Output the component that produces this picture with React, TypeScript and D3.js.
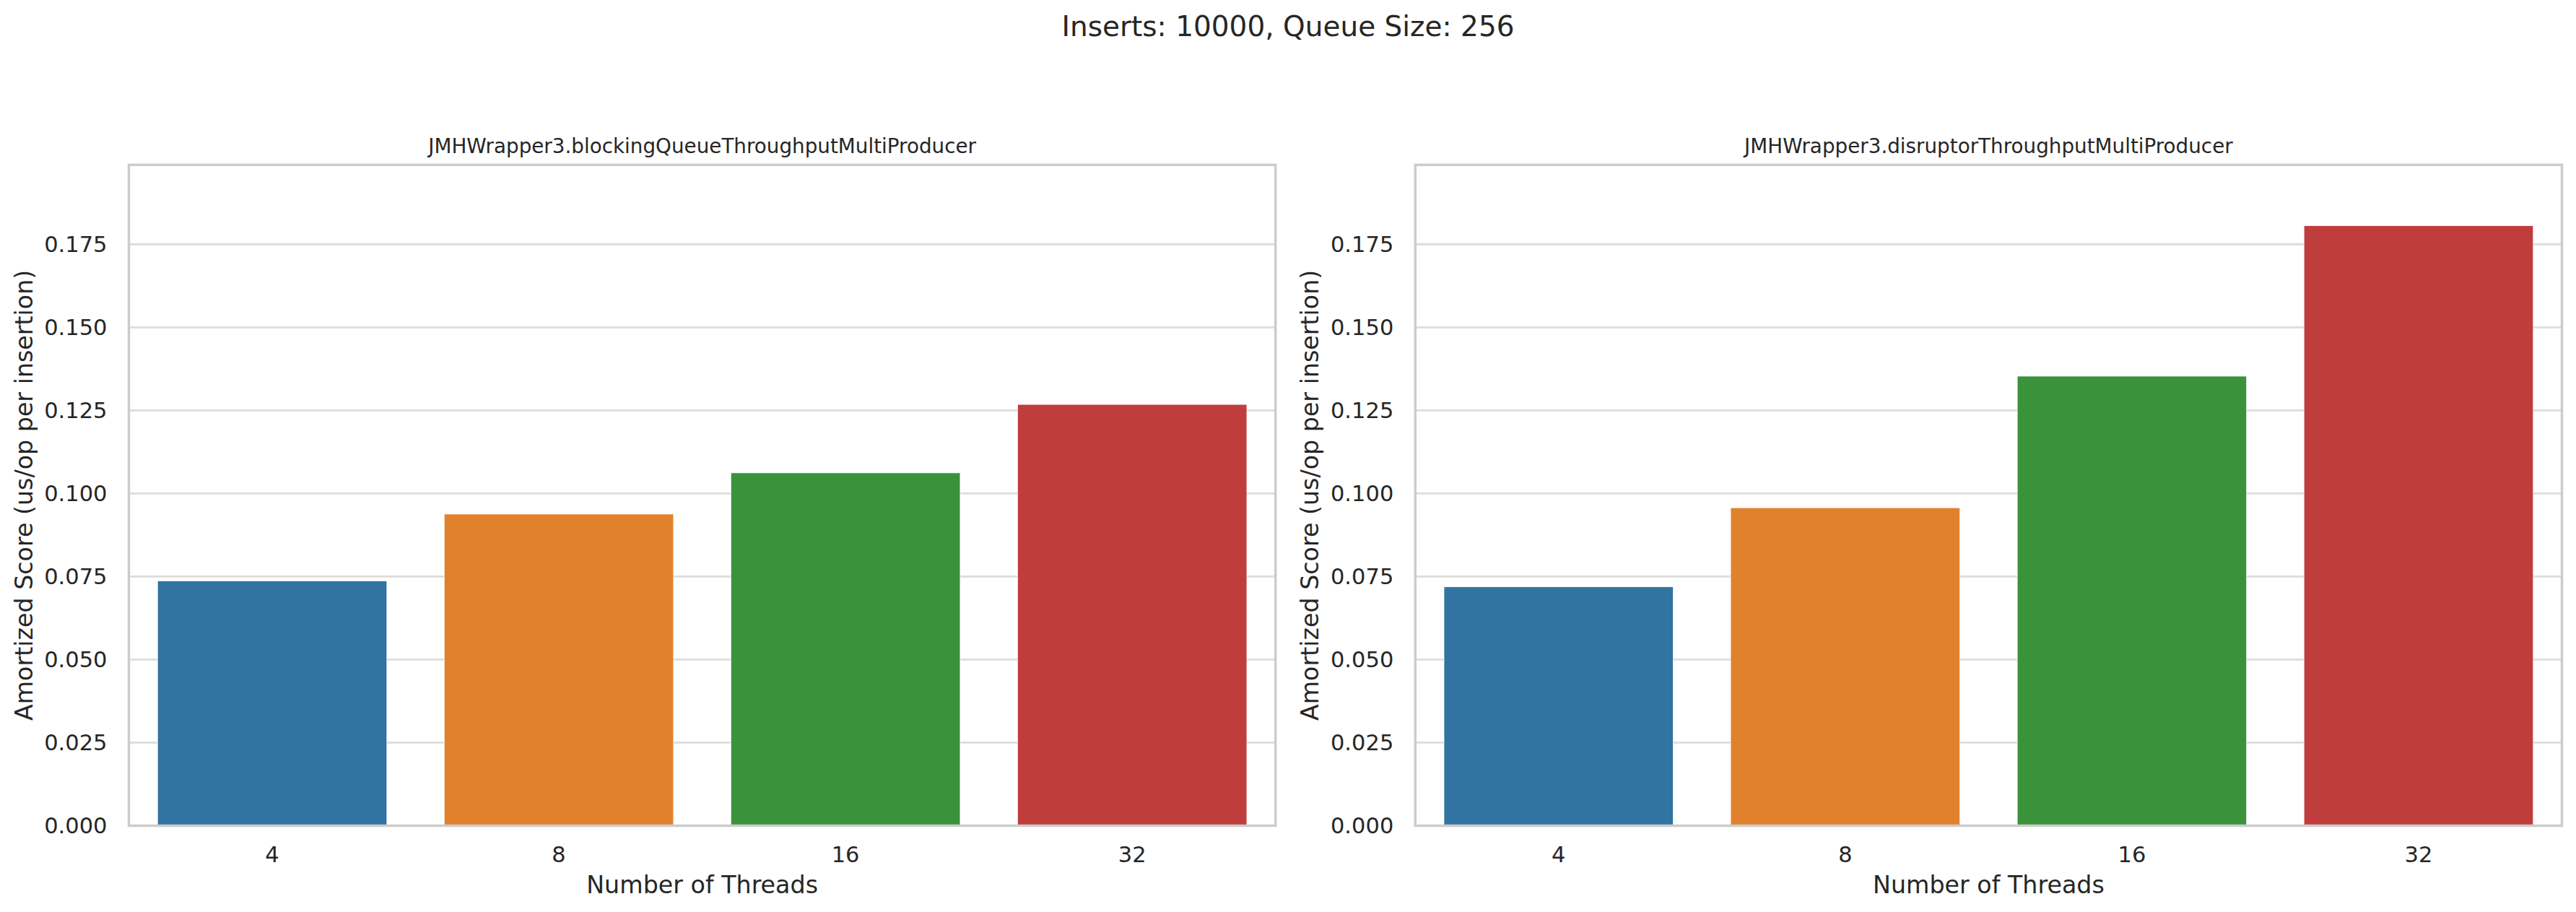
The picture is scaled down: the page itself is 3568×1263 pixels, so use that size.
import React from "react";
import * as d3 from "d3";

const threads = ["4", "8", "16", "32"];
const blockingQueueScores = [0.0737, 0.0938, 0.1062, 0.1268];
const disruptorScores = [0.0719, 0.0957, 0.1353, 0.1806];
const yTicks = [0, 0.025, 0.05, 0.075, 0.1, 0.125, 0.15, 0.175];
const barColors = ["#3274a1", "#e1812c", "#3a923a", "#c03d3e"];
const panelTitles = [
  "JMHWrapper3.blockingQueueThroughputMultiProducer",
  "JMHWrapper3.disruptorThroughputMultiProducer",
];
const suptitle = "Inserts: 10000, Queue Size: 256";
const yLabel = "Amortized Score (us/op per insertion)";
const xLabel = "Number of Threads";

const W = 3568;
const H = 1263;
const TOP = 228.3;
const BOTTOM = 1143.5;
const panelsX: [number, number][] = [
  [178.5, 1766.7],
  [1960.3, 3548.5],
];
const YMAX = 0.1989;
const FONT = "DejaVu Sans, sans-serif";
const TEXT = "#262626";

function Panel({ x0, x1, values, title }: { x0: number; x1: number; values: number[]; title: string }) {
  const x = d3.scaleBand<string>().domain(threads).range([x0, x1]).paddingInner(0.2).paddingOuter(0.1);
  const y = d3.scaleLinear().domain([0, YMAX]).range([BOTTOM, TOP]);
  return (
    <g>
      {yTicks.map((t) => (
        <line key={"g" + t} x1={x0} x2={x1} y1={y(t)} y2={y(t)} stroke="#dcdcdc" strokeWidth={2.8} />
      ))}
      {values.map((v, i) => (
        <rect
          key={threads[i]}
          x={x(threads[i])}
          y={y(v)}
          width={x.bandwidth()}
          height={y(0) - y(v)}
          fill={barColors[i]}
          stroke="#ffffff"
          strokeWidth={0.8}
        />
      ))}
      <rect x={x0} y={TOP} width={x1 - x0} height={BOTTOM - TOP} fill="none" stroke="#cccccc" strokeWidth={3.5} />
      {yTicks.map((t) => (
        <text
          key={"t" + t}
          x={x0 - 30}
          y={y(t)}
          dy="0.36em"
          textAnchor="end"
          fontFamily={FONT}
          fontSize={30.5}
          fill={TEXT}
        >
          {d3.format(".3f")(t)}
        </text>
      ))}
      {threads.map((c) => (
        <text
          key={"x" + c}
          x={(x(c) as number) + x.bandwidth() / 2}
          y={BOTTOM + 50}
          textAnchor="middle"
          fontFamily={FONT}
          fontSize={30.5}
          fill={TEXT}
        >
          {c}
        </text>
      ))}
      <text x={(x0 + x1) / 2} y={BOTTOM + 93} textAnchor="middle" fontFamily={FONT} fontSize={33.3} fill={TEXT}>
        {xLabel}
      </text>
      <text
        transform={`translate(${x0 - 134},${(TOP + BOTTOM) / 2}) rotate(-90)`}
        textAnchor="middle"
        fontFamily={FONT}
        fontSize={33.3}
        fill={TEXT}
      >
        {yLabel}
      </text>
      <text x={(x0 + x1) / 2} y={TOP - 16} textAnchor="middle" fontFamily={FONT} fontSize={27.8} fill={TEXT}>
        {title}
      </text>
    </g>
  );
}

export default function App() {
  return (
    <svg width={W} height={H} style={{ position: "absolute", left: 0, top: 0, background: "#ffffff" }}>
      <rect x={0} y={0} width={W} height={H} fill="#ffffff" />
      <text x={W / 2} y={50} textAnchor="middle" fontFamily={FONT} fontSize={39} fill={TEXT}>
        {suptitle}
      </text>
      <Panel x0={panelsX[0][0]} x1={panelsX[0][1]} values={blockingQueueScores} title={panelTitles[0]} />
      <Panel x0={panelsX[1][0]} x1={panelsX[1][1]} values={disruptorScores} title={panelTitles[1]} />
    </svg>
  );
}
